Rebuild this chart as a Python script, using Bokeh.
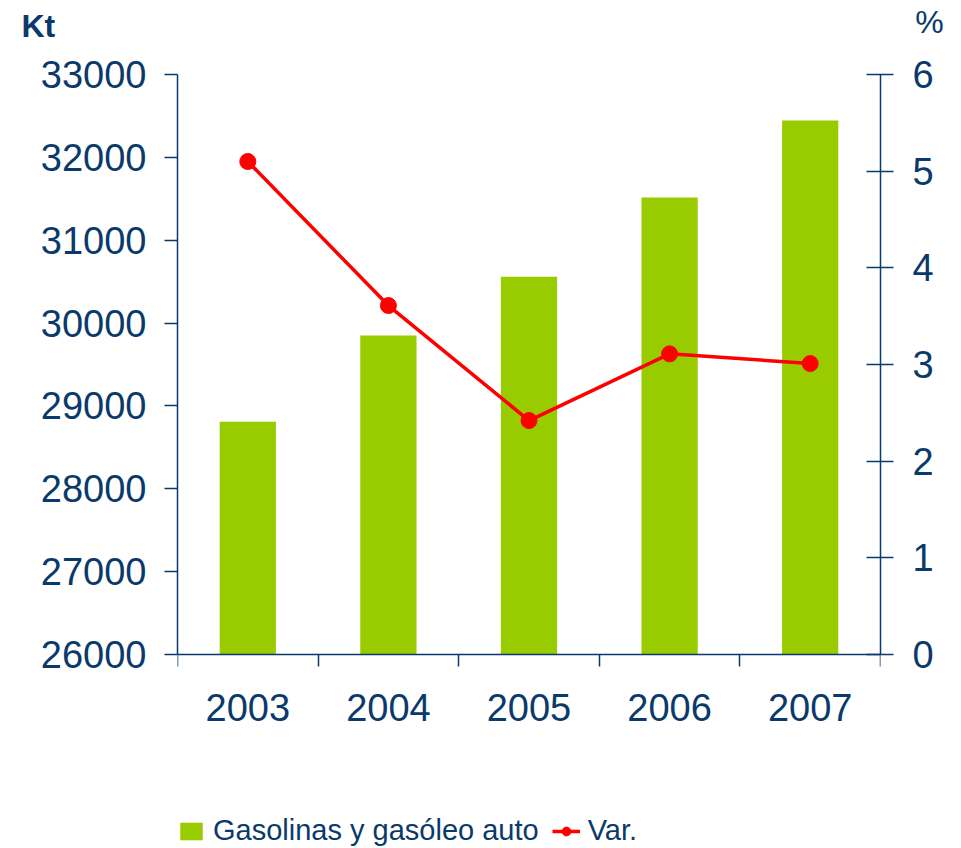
from bokeh.plotting import figure
from bokeh.models import Range1d, LinearAxis, FixedTicker, Legend, LegendItem, Label
from bokeh.embed import file_html
from bokeh.resources import INLINE

years = ["2003", "2004", "2005", "2006", "2007"]
kt = [28810, 29850, 30560, 31515, 32445]
var = [5.10, 3.61, 2.42, 3.11, 3.01]
left_ticks = [26000, 27000, 28000, 29000, 30000, 31000, 32000, 33000]
right_ticks = [0, 1, 2, 3, 4, 5, 6]

NAVY = "#0A3A6B"
GREEN = "#99CC00"
RED = "#FF0000"
FONT = "Liberation Sans"

# layout: axes occupy the upper 580 px of the frame, legend sits in the rest
PLOT_H = 580
FRAME_H = 774
extra = (FRAME_H - PLOT_H) / PLOT_H
l0, l1 = left_ticks[0], left_ticks[-1]
r0, r1 = right_ticks[0], right_ticks[-1]

p = figure(frame_width=703, frame_height=FRAME_H, output_backend="svg", toolbar_location=None,
           x_range=Range1d(0, len(years)),
           y_range=Range1d(l0 - extra * (l1 - l0), l1),
           min_border_left=177, min_border_right=80, min_border_top=74, min_border_bottom=0)
p.outline_line_color = None
p.xgrid.visible = False
p.ygrid.visible = False
p.background_fill_color = "white"

xs = [i + 0.5 for i in range(len(years))]

# left axis
ya = p.yaxis[0]
ya.ticker = FixedTicker(ticks=left_ticks)
ya.bounds = (l0, l1)
ya.axis_line_color = NAVY
ya.axis_line_width = 1.5
ya.major_tick_line_color = NAVY
ya.major_tick_line_width = 1.5
ya.major_tick_out = 13
ya.major_tick_in = 0
ya.minor_tick_line_color = None
ya.major_label_standoff = 18
ya.major_label_text_font = FONT
ya.major_label_text_font_size = "38px"
ya.major_label_text_color = NAVY

# x axis (pinned at the bottom of the value range)
xa = p.xaxis[0]
xa.fixed_location = l0
xa.ticker = FixedTicker(ticks=xs, minor_ticks=list(range(len(years) + 1)))
xa.major_label_overrides = {x: y for x, y in zip(xs, years)}
xa.axis_line_color = NAVY
xa.axis_line_width = 1.5
xa.major_tick_line_color = None
xa.major_tick_out = 0
xa.major_tick_in = 0
xa.minor_tick_line_color = NAVY
xa.minor_tick_line_width = 1.5
xa.minor_tick_out = 12
xa.minor_tick_in = 0
xa.major_label_standoff = 27
xa.major_label_text_font = FONT
xa.major_label_text_font_size = "38px"
xa.major_label_text_color = NAVY

# right axis
p.extra_y_ranges = {"pct": Range1d(r0 - extra * (r1 - r0), r1)}
ra = LinearAxis(y_range_name="pct", ticker=FixedTicker(ticks=right_ticks))
ra.bounds = (r0, r1)
ra.axis_line_color = NAVY
ra.axis_line_width = 1.5
ra.major_tick_line_color = NAVY
ra.major_tick_line_width = 1.5
ra.major_tick_out = 13
ra.major_tick_in = 14
ra.minor_tick_line_color = None
ra.major_label_standoff = 19
ra.major_label_text_font = FONT
ra.major_label_text_font_size = "38px"
ra.major_label_text_color = NAVY
p.add_layout(ra, "right")

bars = p.vbar(x=xs, top=kt, bottom=l0, width=0.4, fill_color=GREEN, line_color=None)
ln = p.line(xs, var, y_range_name="pct", line_color=RED, line_width=3.5)
sc = p.scatter(xs, var, y_range_name="pct", size=16, fill_color=RED, line_color=RED)

legend = Legend(items=[LegendItem(label="Gasolinas y gasóleo auto", renderers=[bars]),
                       LegendItem(label="Var.", renderers=[ln, sc])],
                location=(0, 1), orientation="horizontal",
                glyph_width=28, glyph_height=22, label_standoff=8, spacing=13,
                label_text_font=FONT, label_text_font_size="29px", label_text_color=NAVY,
                border_line_color=None, background_fill_alpha=0, padding=0, margin=0)
p.add_layout(legend)

p.add_layout(Label(x=-156, y=49, x_units="screen", y_units="screen", text="Kt",
                   text_font=FONT, text_font_size="32px", text_font_style="bold",
                   text_color=NAVY, text_baseline="middle", text_align="left"), "above")
p.add_layout(Label(x=752, y=17, x_units="screen", y_units="screen", text="%",
                   text_font=FONT, text_font_size="32px",
                   text_color=NAVY, text_baseline="middle", text_align="center"), "above")

open("out.html", "w").write(file_html(p, INLINE))
